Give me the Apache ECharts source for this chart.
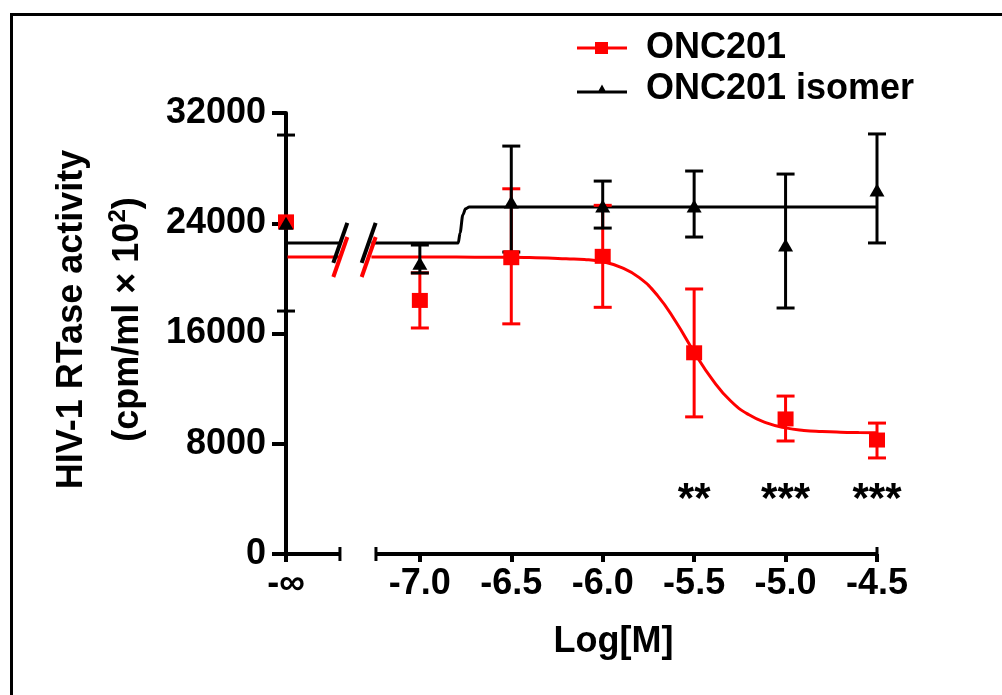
<!DOCTYPE html>
<html><head><meta charset="utf-8">
<script src="https://cdn.jsdelivr.net/npm/echarts@6/dist/echarts.min.js"></script>
<style>html,body{margin:0;padding:0;background:#fff}#c{width:1002px;height:695px}</style>
</head><body><div id="c"></div>
<script>
// position used for the "-∞" (control) column on the broken x axis
const NEG_INF_POS = -7.732;
const xTickValues = [NEG_INF_POS, -7.0, -6.5, -6.0, -5.5, -5.0, -4.5];
const xTickLabels = ['-\u221E', '-7.0', '-6.5', '-6.0', '-5.5', '-5.0', '-4.5'];
const yTicks = [0, 8000, 16000, 24000, 32000];

// measured points (mean, lower and upper error bar)
const doseX   = [NEG_INF_POS, -7.0, -6.5, -6.0, -5.5, -5.0, -4.5];
const oncMean = [24100, 18400, 21500, 21600, 14600, 9800, 8270];
const oncLow  = [24100, 16400, 16700, 17900, 9950, 8200, 6970];
const oncHigh = [24100, 20400, 26500, 25300, 19230, 11460, 9500];
const isoMean = [24000, 21100, 25540, 25250, 25250, 22420, 26410];
const isoLow  = [17630, 20390, 21910, 23650, 23000, 17850, 22570];
const isoHigh = [30400, 22420, 29600, 27060, 27790, 27570, 30480];

// fitted curves
const oncFitLeftX = [NEG_INF_POS, -7.44];
const oncFitLeftY = [21550, 21550];
const oncFitX = [-7.265, -7.1, -6.9, -6.7, -6.5, -6.4, -6.3, -6.2, -6.1, -6.0, -5.9, -5.8, -5.7, -5.6, -5.5, -5.4, -5.3, -5.2, -5.1, -5.0, -4.9, -4.8, -4.7, -4.6, -4.5];
const oncFitY = [21550, 21550, 21545, 21540, 21530, 21510, 21480, 21420, 21370, 21200, 20800, 20050, 18750, 16850, 14650, 12650, 11100, 10100, 9500, 9150, 8970, 8890, 8840, 8810, 8790];
const isoFitLeftX = [NEG_INF_POS, -7.43];
const isoFitLeftY = [22570, 22570];
const isoFitX = [-7.265, -6.79, -6.78, -6.765, -6.75, -6.73, -4.5];
const isoFitY = [22570, 22570, 23300, 24600, 25050, 25180, 25180];

// axis break
const breakX = [-7.435, -7.28];
const axisSegments = [[NEG_INF_POS, -7.437], [-7.24, -4.5]];

// significance marks
const sigX = [-5.5, -5.0, -4.5];
const sigY = [3900, 3900, 3900];
const sigText = ['**', '***', '***'];

const FONT = "'Liberation Sans', Arial, Helvetica, sans-serif";
const RED = '#ff0000', BLACK = '#000000';

const zip = (xs, ys) => xs.map((x, i) => [x, ys[i]]);
const zip3 = (xs, a, b) => xs.map((x, i) => [x, a[i], b[i]]);

function errRender(color) {
  return function (params, api) {
    const x = api.value(0), lo = api.value(1), hi = api.value(2);
    if (lo === hi) return { type: 'group', children: [] };
    const a = api.coord([x, lo]), b = api.coord([x, hi]);
    const w = 9;
    const style = { stroke: color, lineWidth: 3, fill: null };
    return { type: 'group', children: [
      { type: 'line', shape: { x1: a[0], y1: a[1], x2: b[0], y2: b[1] }, style },
      { type: 'line', shape: { x1: a[0] - w, y1: a[1], x2: a[0] + w, y2: a[1] }, style },
      { type: 'line', shape: { x1: b[0] - w, y1: b[1], x2: b[0] + w, y2: b[1] }, style }
    ]};
  };
}
function slashRender(color) {
  return function (params, api) {
    const p = api.coord([api.value(0), api.value(1)]);
    return { type: 'line', shape: { x1: p[0] - 7, y1: p[1] + 20, x2: p[0] + 7, y2: p[1] - 20 },
      style: { stroke: color, lineWidth: 4 } };
  };
}
function segRender(params, api) {
  const x1 = api.value(0), x2 = api.value(1);
  const a = api.coord([x1, 0]), b = api.coord([x2, 0]);
  const style = { stroke: BLACK, lineWidth: 4 };
  const ch = [{ type: 'line', shape: { x1: a[0], y1: a[1], x2: b[0], y2: b[1] }, style }];
  const cap = { stroke: BLACK, lineWidth: 3 };
  if (x1 !== NEG_INF_POS) ch.push({ type: 'line', shape: { x1: a[0], y1: a[1] - 7, x2: a[0], y2: a[1] + 7 }, style: cap });
  ch.push({ type: 'line', shape: { x1: b[0], y1: b[1] - 7, x2: b[0], y2: b[1] + 7 }, style: cap });
  return { type: 'group', children: ch };
}

const sqIcon = 'path://M0,4.5L18,4.5L18,0L31,0L31,4.5L50,4.5L50,7.5L31,7.5L31,12L18,12L18,7.5L0,7.5Z';
const triIcon = 'path://M0,6L21.67,6L25,0L28.33,6L50,6L50,9L0,9Z';
const legendText = { fontFamily: FONT, fontSize: 36, fontWeight: 'bold', color: '#000', padding: [0, 0, 0, 14], lineHeight: 40 };

const chart = echarts.init(document.getElementById('c'), null, { renderer: 'canvas' });
chart.setOption({
  backgroundColor: '#fff',
  animation: false,
  textStyle: { fontFamily: FONT },
  graphic: [{ type: 'rect', left: 9, top: 12, shape: { width: 1200, height: 900 },
    style: { fill: 'none', stroke: '#000', lineWidth: 3 }, silent: true }],
  legend: [
    { data: [{ name: 'ONC201', icon: sqIcon }], left: 572, top: 23, itemWidth: 50, itemHeight: 13,
      itemStyle: { opacity: 1 }, textStyle: legendText },
    { data: [{ name: 'ONC201 isomer', icon: triIcon }], left: 572, top: 64, itemWidth: 50, itemHeight: 9,
      itemStyle: { opacity: 1 }, textStyle: legendText }
  ],
  grid: { left: 286, right: 125, top: 113, bottom: 141 },
  xAxis: {
    type: 'value', min: NEG_INF_POS, max: -4.5,
    name: 'Log[M]', nameLocation: 'middle', nameGap: 70,
    nameTextStyle: { fontFamily: FONT, fontSize: 36, fontWeight: 'bold', color: '#000', padding: [0, 0, 0, 64] },
    axisLine: { show: false },
    axisTick: { show: true, customValues: xTickValues, length: 8, lineStyle: { color: '#000', width: 4 } },
    axisLabel: { customValues: xTickValues, margin: 12, fontFamily: FONT, fontSize: 36, fontWeight: 'bold', color: '#000',
      formatter: v => { let k = 0; xTickValues.forEach((t, i) => { if (Math.abs(t - v) < 1e-6) k = i; }); return xTickLabels[k]; } },
    splitLine: { show: false }
  },
  yAxis: {
    type: 'value', min: 0, max: 32000, interval: 8000,
    name: '{a|HIV-1 RTase activity}\n{a|(cpm/ml \u00D7 10}{s|2}{a|)}',
    nameLocation: 'middle', nameRotate: 90, nameGap: 130,
    nameTextStyle: { color: '#000', padding: [0, 0, 0, 28],
      rich: { a: { fontFamily: FONT, fontSize: 36, fontWeight: 'bold', color: '#000', lineHeight: 56 },
              s: { fontFamily: FONT, fontSize: 24, fontWeight: 'bold', color: '#000', lineHeight: 24, verticalAlign: 'top', padding: [6, 0, 0, 0] } } },
    axisLine: { show: true, lineStyle: { color: '#000', width: 4 } },
    axisTick: { show: true, length: 14, lineStyle: { color: '#000', width: 4 } },
    axisLabel: { margin: 20, fontFamily: FONT, fontSize: 36, fontWeight: 'bold', color: '#000',
      formatter: v => String(v) },
    splitLine: { show: false }
  },
  series: [
    { name: 'ONC201', type: 'scatter', symbol: 'rect', symbolSize: [16, 15], z: 5,
      itemStyle: { color: RED, opacity: 1 }, data: zip(doseX, oncMean) },
    { name: 'ONC201 isomer', type: 'scatter', symbol: 'triangle', symbolSize: [15, 13], z: 6,
      itemStyle: { color: BLACK, opacity: 1 }, data: zip(doseX, isoMean) },
    { name: 'ONC201', type: 'custom', z: 3, renderItem: errRender(RED), encode: { x: 0, y: [1, 2] },
      itemStyle: { color: RED }, data: zip3(doseX, oncLow, oncHigh) },
    { name: 'ONC201 isomer', type: 'custom', z: 4, renderItem: errRender(BLACK), encode: { x: 0, y: [1, 2] },
      itemStyle: { color: BLACK }, data: zip3(doseX, isoLow, isoHigh) },
    { name: 'ONC201', type: 'line', z: 2, showSymbol: false, symbol: 'none', lineStyle: { color: RED, width: 3 },
      itemStyle: { color: RED }, data: zip(oncFitLeftX, oncFitLeftY) },
    { name: 'ONC201', type: 'line', z: 2, showSymbol: false, symbol: 'none', smooth: 0.5,
      lineStyle: { color: RED, width: 3 }, itemStyle: { color: RED }, data: zip(oncFitX, oncFitY) },
    { name: 'ONC201 isomer', type: 'line', z: 2, showSymbol: false, symbol: 'none', lineStyle: { color: BLACK, width: 3 },
      itemStyle: { color: BLACK }, data: zip(isoFitLeftX, isoFitLeftY) },
    { name: 'ONC201 isomer', type: 'line', z: 2, showSymbol: false, symbol: 'none', smooth: 0.3, smoothMonotone: 'x',
      lineStyle: { color: BLACK, width: 3 }, itemStyle: { color: BLACK }, data: zip(isoFitX, isoFitY) },
    { type: 'custom', z: 7, renderItem: slashRender(BLACK), data: breakX.map(x => [x, isoFitLeftY[0]]) },
    { type: 'custom', z: 8, renderItem: slashRender(RED), data: breakX.map(x => [x, oncFitLeftY[0]]) },
    { type: 'custom', z: 3, renderItem: segRender, encode: { x: [0, 1] }, data: axisSegments },
    { type: 'scatter', symbolSize: 1, z: 9, itemStyle: { color: 'rgba(0,0,0,0)', opacity: 1 }, data: zip(sigX, sigY),
      label: { show: true, position: 'inside', fontFamily: FONT, fontSize: 42, fontWeight: 'bold', color: '#000', opacity: 1,
        formatter: p => sigText[p.dataIndex] } }
  ]
});
</script></body></html>
